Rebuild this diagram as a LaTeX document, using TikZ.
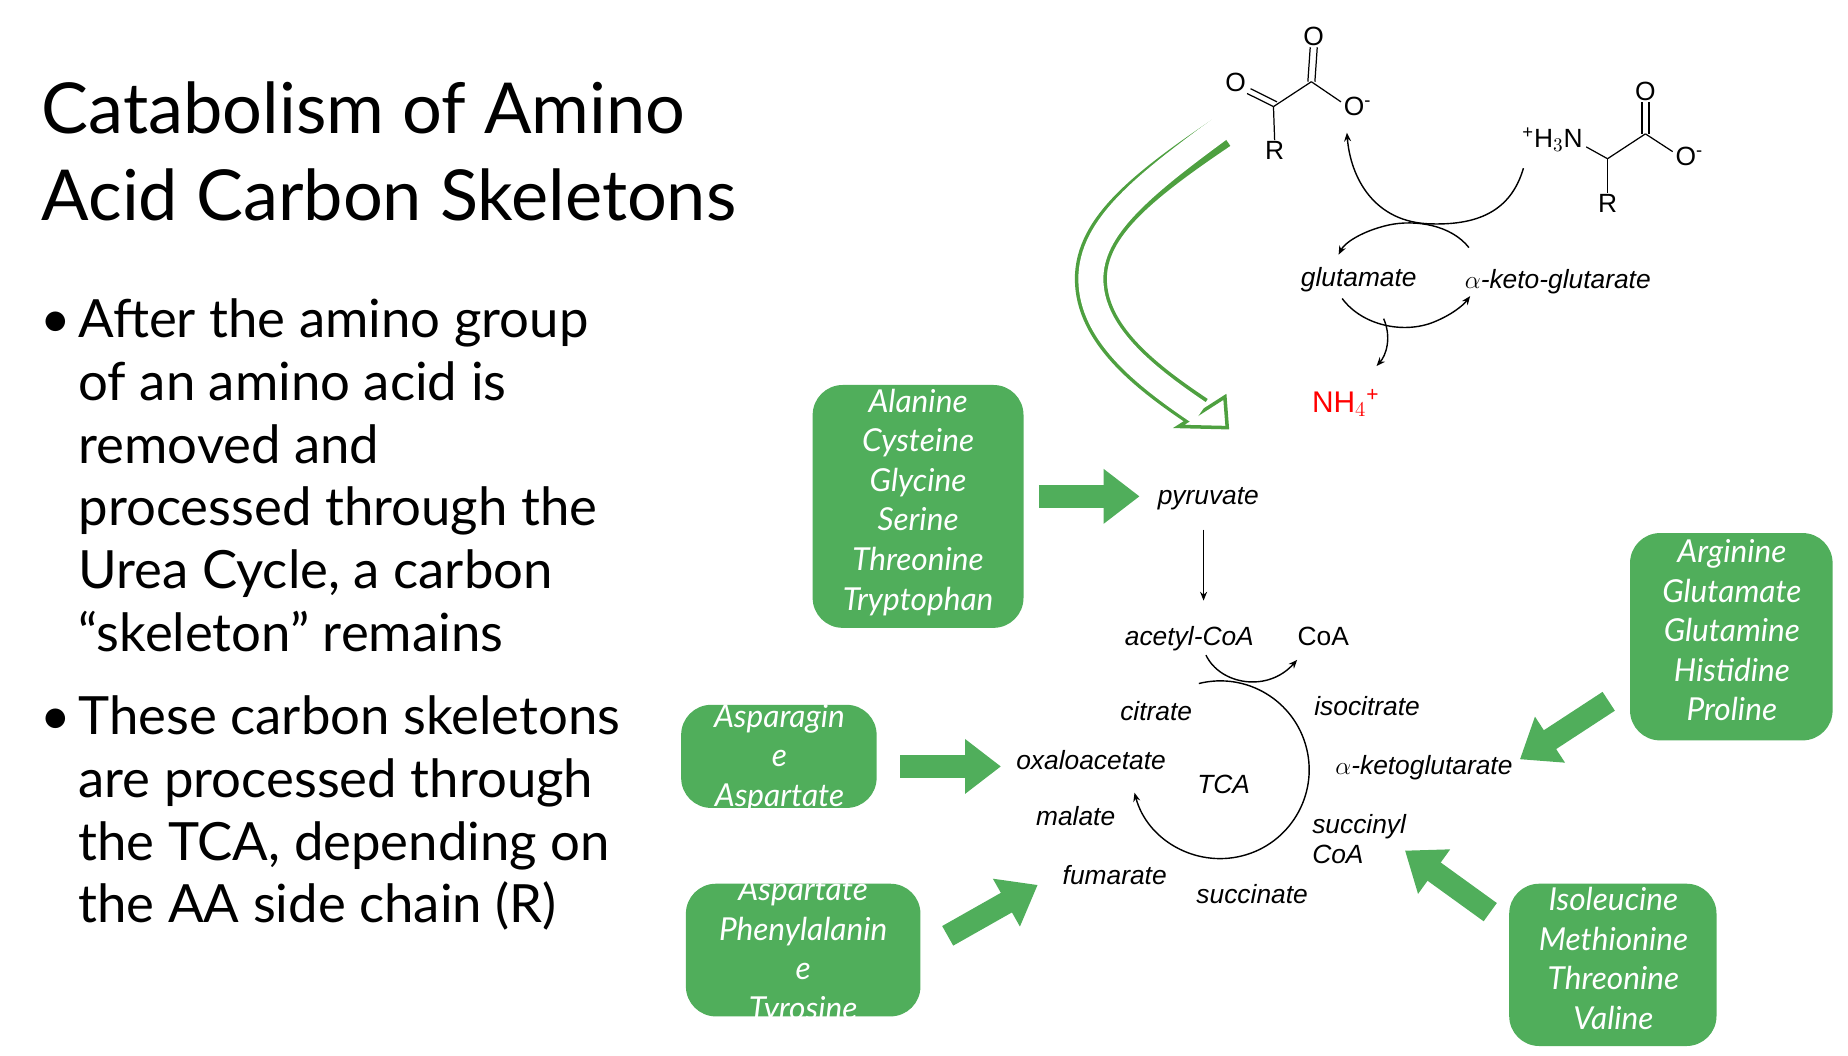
\documentclass[tikz,border=0pt]{standalone}
\usepackage{fontspec}
\setmainfont{Lato}
\newfontfamily\chem{Liberation Sans}
\usetikzlibrary{arrows.meta,fit}
\definecolor{gr}{HTML}{50AE5B}
\definecolor{gline}{HTML}{4EA040}
\begin{document}
\begin{tikzpicture}[x=0.02369cm,y=-0.02369cm,
  gbox/.style={fill=gr,draw=none,rounded corners=0.6cm,inner sep=0pt},
  btxt/.style={text=white,align=center,font=\fontsize{18}{22.5}\selectfont\itshape},
  garrow/.style={draw=gr,line width=0.45cm,-{Triangle[width=1.05cm,length=0.72cm]}},
  lab/.style={font=\chem\fontsize{15}{18}\selectfont\itshape,inner sep=1pt},
  atm/.style={font=\chem\fontsize{15}{18}\selectfont,inner sep=0.5pt},
  tarr/.style={line width=0.8pt,-{Stealth[length=5pt,width=4pt]}},
  bond/.style={line width=0.7pt}]
\useasboundingbox (0,0) rectangle (1560,891);
% title
\node[anchor=base west,inner sep=0,font=\fontsize{40}{48}\selectfont] (t1) at (35,113) {Catabolism of Amino};
\node[anchor=base west,inner sep=0,font=\fontsize{40}{48}\selectfont] (t2) at (35,186) {Acid Carbon Skeletons};
% bullets
\foreach \txt/\yy [count=\i] in {After the amino group/285,of an amino acid is/338,removed and/391,processed through the/444,{Urea Cycle, a carbon}/497,“skeleton” remains/550,These carbon skeletons/620,are processed through/673,{the TCA, depending on}/726,the AA side chain (R)/779}
  \node[anchor=base west,inner sep=0,font=\fontsize{30}{36}\selectfont] (l\i) at (66,\yy) {\txt};
\node[anchor=base west,inner sep=0,font=\fontsize{30}{36}\selectfont] (d1) at (34,285) {•};
\node[anchor=base west,inner sep=0,font=\fontsize{30}{36}\selectfont] (d2) at (34,620) {•};
% boxes
\node[gbox,fit={(686,325)(864,530)}] (b1) {};
\node[gbox,fit={(575,595)(740,682)}] (b2) {};
\node[gbox,fit={(579,746)(777,858)}] (b3) {};
\node[gbox,fit={(1376,450)(1547,625)}] (b4) {};
\node[gbox,fit={(1274,746)(1449,883)}] (b5) {};
\node[btxt] (b1t) at (775,424) {Alanine\\Cysteine\\Glycine\\Serine\\Threonine\\Tryptophan};
\node[btxt] (b2t) at (658,640) {Asparagin\\e\\Aspartate};
\node[btxt] (b3t) at (678,803) {Aspartate\\Phenylalanin\\e\\Tyrosine};
\node[btxt] (b4t) at (1462,532) {Arginine\\Glutamate\\Glutamine\\Histidine\\Proline};
\node[btxt] (b5t) at (1362,809) {Isoleucine\\Methionine\\Threonine\\Valine};
% thick arrows
\coordinate (a1s) at (877,419); \coordinate (a1e) at (962,419);
\coordinate (a2s) at (760,647); \coordinate (a2e) at (845,647);
\coordinate (a3s) at (800,790); \coordinate (a3e) at (876,747);
\coordinate (a4s) at (1358,592); \coordinate (a4e) at (1283,641);
\coordinate (a5s) at (1258,770); \coordinate (a5e) at (1186,718);
\foreach \k in {1,...,5} \draw[garrow] (a\k s) -- (a\k e);
% hollow arrow
\draw[gline,line width=0.64cm] (1031,112) .. controls (960,160) and (918,195) .. (921,240) .. controls (924,285) and (970,320) .. (1012,348);
\draw[gline,line width=2pt,fill=white] (1036,361) -- (995,360) -- (1034,335) -- cycle;
\draw[white,line width=0.5cm] (1031,108) .. controls (960,160) and (918,195) .. (921,240) .. controls (924,285) and (970,320) .. (1013,349);
% left keto acid
\node[atm] (o1) at (1043,70) {O};
\node[atm] (r1) at (1076,127) {R};
\node[atm] (o2) at (1109,31) {O};
\node[atm] (o3) at (1146,90) {O\textsuperscript{-}};
\coordinate (c1) at (1075,90); \coordinate (c2) at (1107,69);
\draw[bond] (o1.south east) -- (c1); \draw[bond] ([shift={(3,-4)}]o1.south east) -- ([shift={(3,-4)}]c1);
\draw[bond] (c1) -- (r1.north); \draw[bond] (c1) -- (c2);
\draw[bond] ([xshift=-2]c2) -- ([xshift=-2]o2.south); \draw[bond] ([xshift=2]c2) -- ([xshift=2]o2.south);
\draw[bond] (c2) -- (1132,86);
% right amino acid
\node[atm,anchor=east] (n1) at (1337,118) {\textsuperscript{+}H$_3$N};
\node[atm] (r2) at (1357,172) {R};
\node[atm] (o4) at (1389,77) {O};
\node[atm] (o5) at (1426,132) {O\textsuperscript{-}};
\coordinate (c3) at (1357,134); \coordinate (c4) at (1389,113);
\draw[bond] (1339,124) -- (c3); \draw[bond] (c3) -- (r2.north); \draw[bond] (c3) -- (c4);
\draw[bond] ([xshift=-2]c4) -- ([xshift=-2]o4.south); \draw[bond] ([xshift=2]c4) -- ([xshift=2]o4.south);
\draw[bond] (c4) -- (1412,128);
% transamination
\node[lab] (glu) at (1147,236) {glutamate};
\node[lab] (akg) at (1315,238) {$\alpha$-keto-glutarate};
\node[font=\chem\fontsize{17}{20}\selectfont,text=red] (nh4) at (1136,340) {NH$_4$\textsuperscript{+}};
\draw[tarr] (1286,142) .. controls (1275,180) and (1245,190) .. (1208,189) .. controls (1160,188) and (1140,150) .. (1137,112);
\draw[tarr] (1240,209) .. controls (1225,190) and (1195,185) .. (1172,190) .. controls (1150,195) and (1135,205) .. (1130,215);
\draw[tarr] (1133,252) .. controls (1150,275) and (1185,282) .. (1210,272) .. controls (1225,266) and (1235,258) .. (1241,250);
\draw[tarr] (1168,269) .. controls (1175,285) and (1170,300) .. (1162,309);
% TCA
\node[lab] (pyr) at (1020,421) {pyruvate};
\node[lab] (acoa) at (1004,539) {acetyl-CoA};
\node[atm] (coa) at (1117,537) {CoA};
\draw[tarr] (1016,447) -- (1016,507);
\draw[tarr] (1018,553) .. controls (1030,578) and (1070,585) .. (1095,557);
\coordinate (tc) at (1030,650);
\draw[tarr] ([shift={(-18,-73)}]tc) arc[start angle=-104,end angle=165,radius=75];
\node[lab] (cit) at (976,600) {citrate};
\node[lab] (icit) at (1154,596) {isocitrate};
\node[lab] (oaa) at (921,642) {oxaloacetate};
\node[lab] (tca) at (1033,662) {TCA};
\node[lab] (akg2) at (1202,648) {$\alpha$-ketoglutarate};
\node[lab] (mal) at (908,689) {malate};
\node[lab,align=left,anchor=west,font=\chem\fontsize{15}{17}\selectfont\itshape] (scoa) at (1106,708) {succinyl\\CoA};
\node[lab] (fum) at (941,739) {fumarate};
\node[lab] (suc) at (1057,755) {succinate};
\end{tikzpicture}
\end{document}
